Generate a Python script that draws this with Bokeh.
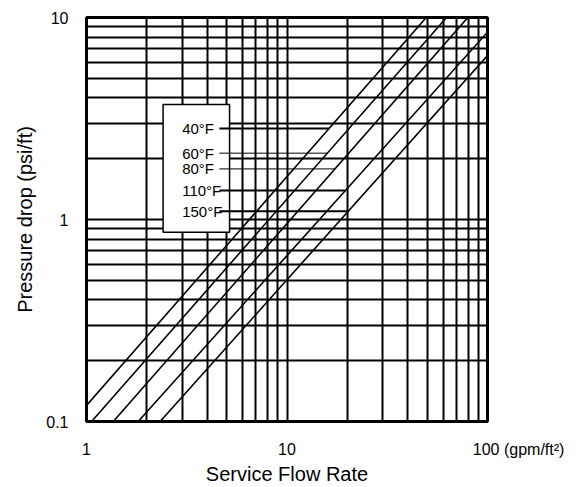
import math
from bokeh.plotting import figure
from bokeh.models import (FixedTicker, BoxAnnotation, Label, Arrow,
                          CustomJSTickFormatter)
from bokeh.embed import file_html
from bokeh.resources import INLINE

# ---- data ----
series_labels = ["40°F", "60°F", "80°F", "110°F", "150°F"]
flow_start = [1.0, 1.06, 1.36, 1.81, 2.33]      # gpm/ft2
drop_start = [0.12, 0.10, 0.10, 0.10, 0.10]     # psi/ft
flow_end = [49.5, 62.5, 79.8, 100.0, 100.0]
drop_end = [10.0, 10.0, 10.0, 8.46, 6.48]
legend_drop = [2.82, 2.13, 1.78, 1.39, 1.10]    # level of each legend leader

x_ticks = [1, 10, 100]
x_tick_labels = ["1", "10", "100 (gpm/ft²)"]
y_ticks = [0.1, 1, 10]
y_tick_labels = ["0.1", "1", "10"]
x_grid = [1, 2, 3, 4, 5, 6, 7, 8, 9, 10, 20, 30, 40, 50, 60, 70, 80, 90, 100]
y_grid = [0.1, 0.2, 0.3, 0.4, 0.5, 0.6, 0.7, 0.8, 0.9,
          1, 2, 3, 4, 5, 6, 7, 8, 9, 10]

FONT = "Liberation Sans"
NBSP = "\u00a0"

p = figure(frame_width=401, frame_height=404,
           x_axis_type="log", y_axis_type="log",
           x_range=(1, 100), y_range=(0.1, 10),
           output_backend="svg", toolbar_location=None,
           min_border_left=86, min_border_right=99,
           min_border_top=17, min_border_bottom=60)

p.background_fill_color = "white"
p.border_fill_color = "white"
p.outline_line_color = "black"
p.outline_line_width = 3
p.outline_line_alpha = 1

p.xaxis.ticker = FixedTicker(ticks=x_ticks, minor_ticks=[])
p.yaxis.ticker = FixedTicker(ticks=y_ticks, minor_ticks=[])
fmt = CustomJSTickFormatter(code="return tick.toString();")
p.xaxis.formatter = fmt
p.yaxis.formatter = fmt
# the unit follows the last x label; pad it so "100" stays under its tick
x_over = dict(zip(x_ticks, x_tick_labels))
x_over[100] = NBSP * 14 + x_over[100]
p.xaxis.major_label_overrides = x_over
p.yaxis.major_label_overrides = dict(zip(y_ticks, y_tick_labels))

p.xgrid.ticker = FixedTicker(ticks=x_grid)
p.ygrid.ticker = FixedTicker(ticks=y_grid)
for g in (p.xgrid, p.ygrid):
    g.grid_line_color = "black"
    g.grid_line_width = 2
    g.grid_line_alpha = 1

for ax in (p.xaxis, p.yaxis):
    ax.axis_line_color = "black"
    ax.axis_line_width = 3
    ax.major_tick_line_color = None
    ax.minor_tick_line_color = None
    ax.major_label_text_font = FONT
    ax.major_label_text_font_size = "16px"
    ax.major_label_text_color = "black"
    ax.axis_label_text_font = FONT
    ax.axis_label_text_font_style = "normal"
    ax.axis_label_text_color = "black"
    ax.axis_label_text_font_size = "20px"

p.xaxis.axis_label = "Service Flow Rate"
p.yaxis.axis_label = "Pressure drop (psi/ft)"
p.xaxis.major_label_standoff = 13
p.xaxis.axis_label_standoff = 2
p.yaxis.major_label_standoff = 12
p.yaxis.axis_label_standoff = 7

# diagonal curves
xs = [[a, b] for a, b in zip(flow_start, flow_end)]
ys = [[a, b] for a, b in zip(drop_start, drop_end)]
p.multi_line(xs, ys, line_color="black", line_width=1.6)

# legend box
box = BoxAnnotation(left=2.41, right=5.17, bottom=0.865, top=3.71,
                    fill_color="white", fill_alpha=1,
                    line_color="black", line_width=1.5, line_alpha=1)
p.add_layout(box)

leader_widths = [2, 1, 1, 2, 2]
for lab, fs, ds, fe, de, ly, lw in zip(series_labels, flow_start, drop_start,
                                       flow_end, drop_end, legend_drop, leader_widths):
    t = (math.log10(ly) - math.log10(ds)) / (math.log10(de) - math.log10(ds))
    lx = 10 ** (math.log10(fs) + t * (math.log10(fe) - math.log10(fs)))
    p.add_layout(Arrow(end=None, x_start=4.6, y_start=ly, x_end=lx, y_end=ly,
                       line_color="black", line_width=lw))
    p.add_layout(Label(x=3.0, y=ly, text=lab, text_align="left",
                       text_baseline="middle", text_font=FONT,
                       text_font_size="15px", text_color="black"))

open("out.html", "w").write(file_html(p, INLINE))
